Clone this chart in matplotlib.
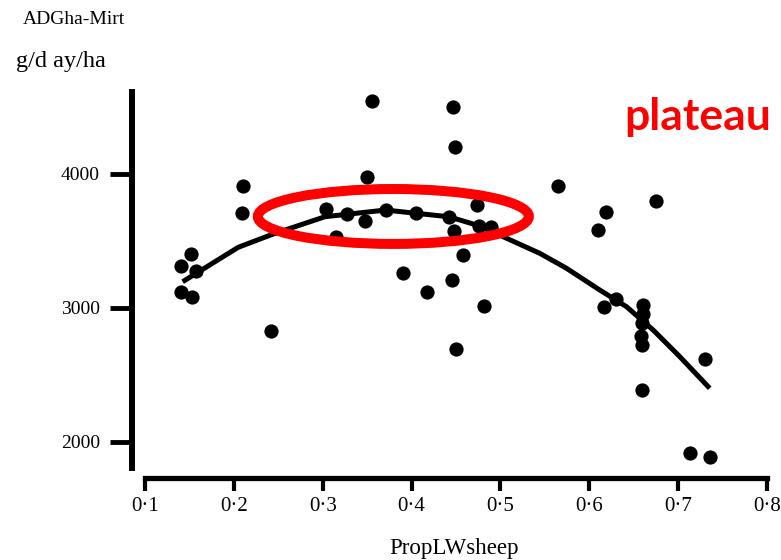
import numpy as np
import matplotlib
matplotlib.use('Agg')
import matplotlib.pyplot as plt
from matplotlib.patches import Ellipse

# observed points (proportion of LW as sheep, ADG per ha)
prop_sheep = [0.1405, 0.1517, 0.1574, 0.1405, 0.1525, 0.2106, 0.2091, 0.2414,
              0.3494, 0.3033, 0.3269, 0.3478, 0.3145, 0.3550, 0.4468, 0.4487,
              0.3708, 0.4045, 0.4420, 0.4738, 0.4476, 0.4757, 0.4889, 0.4580,
              0.3906, 0.4175, 0.4457, 0.4813, 0.4495, 0.5649, 0.6186, 0.6099,
              0.6748, 0.6298, 0.6167, 0.6602, 0.6602, 0.6590, 0.6585, 0.6595,
              0.7307, 0.6598, 0.7130, 0.7363]
adg_ha = [3313, 3403, 3278, 3119, 3084, 3910, 3711, 2831,
          3975, 3739, 3701, 3649, 3528, 4547, 4502, 4199,
          3731, 3711, 3681, 3769, 3577, 3614, 3607, 3395,
          3263, 3117, 3209, 3015, 2692, 3913, 3714, 3582,
          3801, 3065, 3005, 3022, 2955, 2888, 2791, 2724,
          2619, 2388, 1916, 1886]

# fitted curve as drawn
fit_x = [0.1424, 0.2050, 0.2443, 0.3025, 0.3708, 0.4045, 0.4420, 0.4757,
         0.5030, 0.5443, 0.5744, 0.6118, 0.6418, 0.6718, 0.7018, 0.7355]
fit_y = [3196, 3453, 3552, 3681, 3731, 3707, 3681, 3614,
         3532, 3408, 3296, 3134, 3010, 2836, 2637, 2401]

x_ticks = [0.1, 0.2, 0.3, 0.4, 0.5, 0.6, 0.7, 0.8]
y_ticks = [2000, 3000, 4000]

# plateau highlight (centre, width, height in data units)
plateau_centre = (0.3795, 3683)
plateau_w, plateau_h = 0.305, 410

W, H = 781, 560
fig = plt.figure(figsize=(W / 100, H / 100), dpi=100)
ax = fig.add_axes([132 / W, (H - 478) / H, (767 - 132) / W, (478 - 92) / H])

serif = 'Liberation Serif'

ax.scatter(prop_sheep, adg_ha, s=105, color='black', zorder=3, linewidths=0)
ax.plot(fit_x, fit_y, color='black', lw=3.6, zorder=3, solid_capstyle='butt')

ax.add_patch(Ellipse(plateau_centre, plateau_w, plateau_h, fill=False,
                     edgecolor='#ff0000', lw=7.2, zorder=4))

ax.set_xlim(0.0854, 0.8)
ax.set_ylim(1731, 4612)

for side in ['top', 'right']:
    ax.spines[side].set_visible(False)
ax.spines['left'].set_linewidth(4.3)
ax.spines['bottom'].set_linewidth(3.8)
ax.spines['left'].set_bounds(1806, 4612)
ax.spines['bottom'].set_bounds(0.1, 0.8)

ax.set_xticks(x_ticks)
ax.set_xticklabels([('%.1f' % v).replace('.', '\u00b7') for v in x_ticks],
                   fontfamily=serif, fontsize=15)
ax.set_yticks(y_ticks)
ax.set_yticklabels([str(v) for v in y_ticks], fontfamily=serif, fontsize=14)
ax.tick_params(axis='x', direction='out', length=9, width=3, pad=5)
ax.tick_params(axis='y', direction='out', length=16, width=3.5, pad=7)

ax.set_xlabel('PropLWsheep', fontfamily=serif, fontsize=16.5, va='baseline')
ax.xaxis.set_label_coords((454 - 132) / 635, -(554 - 478) / 386)

fig.text(23 / W, 1 - 20 / H, 'ADGha-Mirt', fontfamily=serif, fontsize=14,
         va='center', ha='left')
fig.text(16 / W, 1 - 61 / H, 'g/d ay/ha', fontfamily=serif, fontsize=17.5,
         va='center', ha='left')
fig.text(698 / W, 1 - 130 / H, 'plateau', fontfamily='Lato', fontweight='bold',
         fontsize=32, color='#ff0000', ha='center', va='baseline')

fig.savefig('out.png', dpi=100)
